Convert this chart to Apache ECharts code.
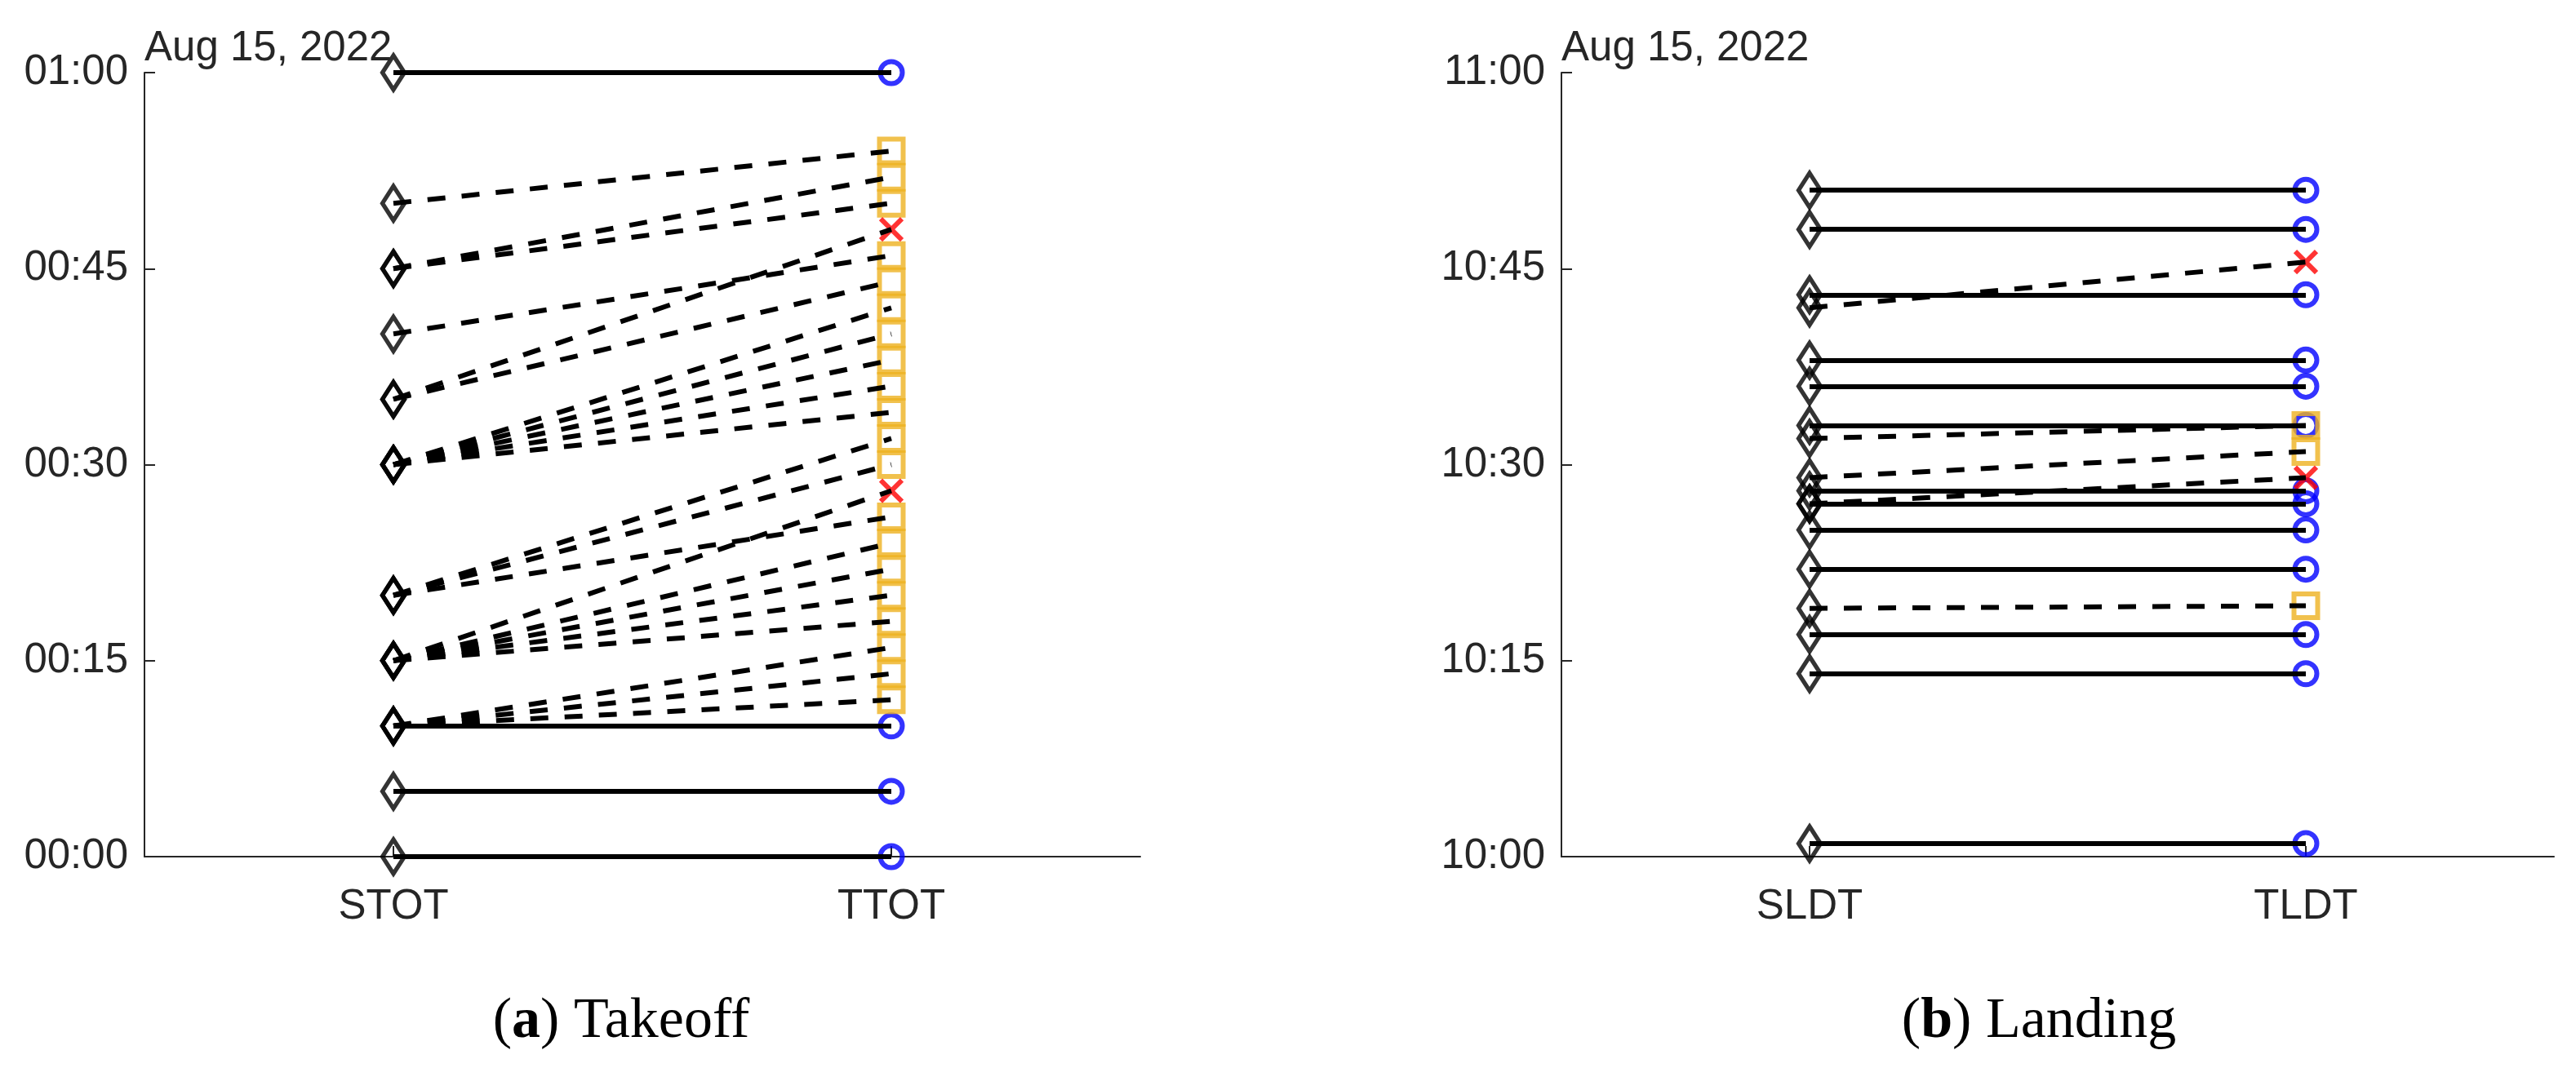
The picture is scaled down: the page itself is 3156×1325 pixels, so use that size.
<!DOCTYPE html>
<html><head><meta charset="utf-8">
<script src="https://cdn.jsdelivr.net/npm/echarts@6/dist/echarts.min.js"></script>
<style>html,body{margin:0;padding:0;background:#fff}#c{width:3156px;height:1325px}</style>
</head><body><div id="c"></div>
<script>
// ---------- data ----------
const dateLabel = 'Aug 15, 2022';

const takeoffCategories = ['STOT', 'TTOT'];
const takeoffTickLabels = ['00:00', '00:15', '00:30', '00:45', '01:00'];
// minutes after 00:00
const takeoffScheduled = [0, 5, 10, 60, 10, 10, 10, 15, 15, 15, 15, 15, 20, 20, 20, 30, 30, 30, 30, 30, 35, 35, 40, 45, 45, 50];
const takeoffTarget    = [0, 5, 10, 60, 12, 14, 16, 18, 20, 22, 24, 28, 26, 30, 32, 34, 36, 38, 40, 42, 44, 48, 46, 50, 52, 54];
// 'same' = unchanged (circle), 'moved' = rescheduled (square), 'cross' = cross mark
const takeoffStatus    = ['same', 'same', 'same', 'same', 'moved', 'moved', 'moved', 'moved', 'moved', 'moved', 'moved', 'cross',
                          'moved', 'moved', 'moved', 'moved', 'moved', 'moved', 'moved', 'moved', 'moved', 'cross', 'moved', 'moved', 'moved', 'moved'];

const landingCategories = ['SLDT', 'TLDT'];
const landingTickLabels = ['10:00', '10:15', '10:30', '10:45', '11:00'];
// minutes after 10:00
const landingScheduled = [1, 14, 17, 22, 25, 27, 28, 33, 36, 38, 43, 48, 51, 19, 27, 29, 32, 42];
const landingTarget    = [1, 14, 17, 22, 25, 27, 28, 33, 36, 38, 43, 48, 51, 19.2, 29, 31, 33, 45.5];
const landingStatus    = ['same', 'same', 'same', 'same', 'same', 'same', 'same', 'same', 'same', 'same', 'same', 'same', 'same',
                          'moved', 'cross', 'moved', 'moved', 'cross'];

const captionLetters = ['a', 'b'];
const captionTexts = ['Takeoff', 'Landing'];

// ---------- styling ----------
const TXT = '#262626';
const SANS = '"Liberation Sans", Arial, sans-serif';
const SERIF = '"Liberation Serif", "Times New Roman", serif';
const FS = 51;
const grids = [
  { left: 177, top: 89, width: 1220, height: 961 },
  { left: 1913, top: 89, width: 1216, height: 961 }
];

function axesFor(i, cats, ticks) {
  const x = {
    gridIndex: i, type: 'category', data: cats, boundaryGap: true,
    axisLine: { show: true, lineStyle: { color: TXT, width: 2 } },
    axisTick: { show: true, inside: true, alignWithLabel: true, length: 13, lineStyle: { color: TXT, width: 2 } },
    axisLabel: { color: TXT, fontSize: FS, fontFamily: SANS, margin: 36 },
    splitLine: { show: false }
  };
  const y = {
    gridIndex: i, type: 'value', min: 0, max: 60, interval: 15,
    axisLine: { show: true, lineStyle: { color: TXT, width: 2 } },
    axisTick: { show: true, inside: true, length: 13, lineStyle: { color: TXT, width: 2 } },
    axisLabel: { color: TXT, fontSize: FS, fontFamily: SANS, margin: 20,
      formatter: v => ticks[Math.round(v / 15)] },
    splitLine: { show: false }
  };
  return [x, y];
}

function seriesFor(i, sched, targ, status) {
  const base = { xAxisIndex: i, yAxisIndex: i, silent: true, animation: false };
  const pick = s => targ.map((t, k) => status[k] === s ? [1, t] : null).filter(d => d);
  const out = [];
  out.push(Object.assign({}, base, {
    type: 'scatter', z: 2, data: sched.map(v => [0, v]),
    symbol: 'diamond', symbolSize: [27, 42],
    itemStyle: { color: 'rgba(0,0,0,0)', borderColor: '#000', borderWidth: 5.5 }
  }));
  out.push(Object.assign({}, base, {
    type: 'scatter', z: 2, data: pick('same'),
    symbol: 'circle', symbolSize: 27,
    itemStyle: { color: 'rgba(0,0,0,0)', borderColor: '#0000FF', borderWidth: 6 }
  }));
  out.push(Object.assign({}, base, {
    type: 'scatter', z: 2, data: pick('moved'),
    symbol: 'rect', symbolSize: 29,
    itemStyle: { color: 'rgba(0,0,0,0)', borderColor: '#EDB120', borderWidth: 6 }
  }));
  out.push(Object.assign({}, base, {
    type: 'scatter', z: 2, data: pick('cross'),
    symbol: 'path://M0,0L20,20M20,0L0,20', symbolSize: 26,
    itemStyle: { color: 'rgba(0,0,0,0)', borderColor: '#FF0000', borderWidth: 6 }
  }));
  const solid = [], dashed = [];
  sched.forEach((s, k) => {
    const item = { coords: [[0, s], [1, targ[k]]] };
    (status[k] === 'same' ? solid : dashed).push(item);
  });
  out.push(Object.assign({}, base, {
    type: 'lines', coordinateSystem: 'cartesian2d', z: 3, data: solid,
    lineStyle: { color: '#000', width: 6, type: 'solid', opacity: 1 }
  }));
  out.push(Object.assign({}, base, {
    type: 'lines', coordinateSystem: 'cartesian2d', z: 3, data: dashed,
    lineStyle: { color: '#000', width: 6, type: [22, 20], opacity: 1 }
  }));
  return out;
}

const [x0, y0] = axesFor(0, takeoffCategories, takeoffTickLabels);
const [x1, y1] = axesFor(1, landingCategories, landingTickLabels);

const captionX = [761, 2498];
const graphics = [];
grids.forEach((g, i) => {
  graphics.push({
    type: 'text', z: 10,
    style: { text: dateLabel, x: g.left, y: 60, font: FS + 'px ' + SANS, fill: TXT, align: 'left', verticalAlign: 'middle' }
  });
  graphics.push({
    type: 'text', z: 10,
    style: {
      text: '{p|(}{b|' + captionLetters[i] + '}{p|) ' + captionTexts[i] + '}',
      x: captionX[i], y: 1253, align: 'center', verticalAlign: 'middle',
      font: '70px ' + SERIF, fill: '#000',
      rich: {
        p: { font: '70px ' + SERIF, fill: '#000' },
        b: { font: 'bold 70px ' + SERIF, fill: '#000' }
      }
    }
  });
});

const chart = echarts.init(document.getElementById('c'), null, { renderer: 'canvas' });
chart.setOption({
  animation: false,
  backgroundColor: '#fff',
  grid: grids.map(g => Object.assign({ containLabel: false }, g)),
  xAxis: [x0, x1],
  yAxis: [y0, y1],
  series: seriesFor(0, takeoffScheduled, takeoffTarget, takeoffStatus)
    .concat(seriesFor(1, landingScheduled, landingTarget, landingStatus)),
  graphic: graphics
});
</script>
</body></html>
